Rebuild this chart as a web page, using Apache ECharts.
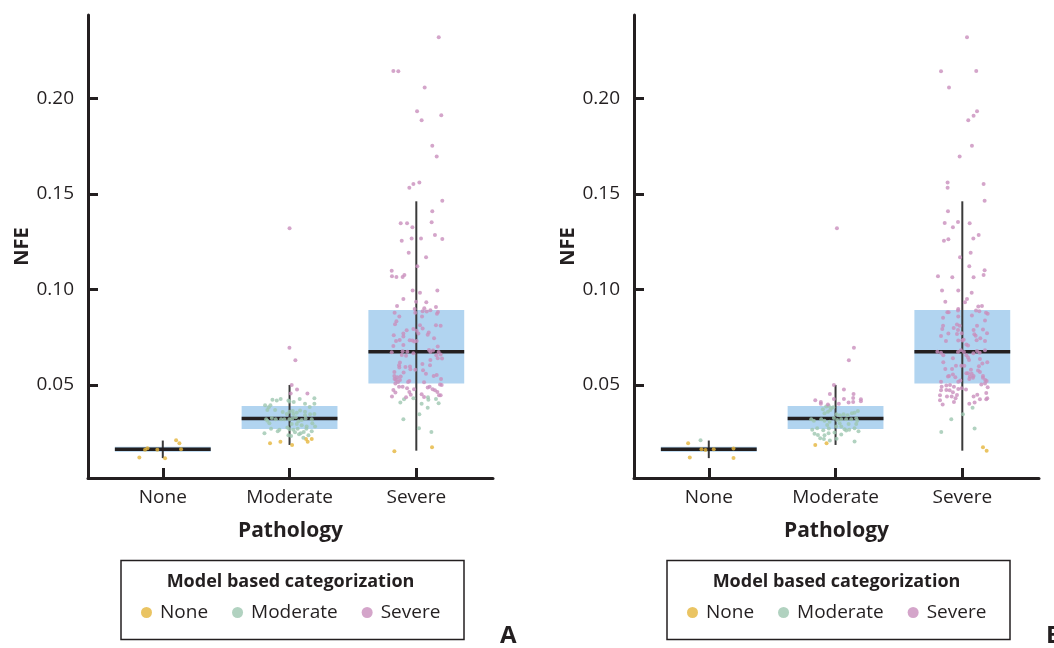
<!DOCTYPE html>
<html>
<head>
<meta charset="utf-8">
<script src="https://cdn.jsdelivr.net/npm/echarts@6/dist/echarts.min.js"></script>
<style>
  html, body { margin: 0; padding: 0; background: #fff; }
  #chart { width: 1054px; height: 648px; }
</style>
</head>
<body>
<div id="chart"></div>
<script>
// 病理分类 (x 轴)
var pathology = ['None', 'Moderate', 'Severe']
var modelCats = ['None', 'Moderate', 'Severe']
var yTicks = [0.05, 0.10, 0.15, 0.20]

// 箱线图统计量, 两个面板相同
var boxLow = [0.0117, 0.0186, 0.0156]
var boxQ1 = [0.0151, 0.0270, 0.0507]
var boxMedian = [0.0164, 0.0324, 0.0674]
var boxQ3 = [0.0176, 0.0390, 0.0892]
var boxHigh = [0.0209, 0.0500, 0.1461]

// 散点: [病理分类序号, 抖动, NFE]
// 面板 A
var aYellow = [
  [0, 0.105, 0.0211], [0, 0.131, 0.0195], [0, -0.140, 0.0161], [0, -0.121, 0.0169],
  [0, -0.043, 0.0161], [0, 0.144, 0.0164], [0, -0.185, 0.0120], [0, 0.018, 0.0116],
  [1, -0.154, 0.0195], [1, -0.072, 0.0203], [1, 0.020, 0.0186], [1, 0.130, 0.0217],
  [1, 0.143, 0.0203], [1, 0.175, 0.0217],
  [2, -0.173, 0.0153], [2, 0.124, 0.0174]
]
var aGreen = [
  [1, -0.135, 0.0423], [1, -0.101, 0.0418], [1, -0.070, 0.0427], [1, -0.009, 0.0418],
  [1, -0.001, 0.0413], [1, 0.033, 0.0411], [1, 0.080, 0.0427], [1, 0.122, 0.0401],
  [1, 0.196, 0.0430], [1, 0.196, 0.0401], [1, 0.159, 0.0385], [1, -0.193, 0.0394],
  [1, -0.164, 0.0383], [1, -0.151, 0.0394], [1, -0.175, 0.0369], [1, -0.114, 0.0369],
  [1, -0.054, 0.0359], [1, -0.022, 0.0348], [1, -0.001, 0.0360], [1, 0.025, 0.0364],
  [1, 0.030, 0.0348], [1, 0.057, 0.0355], [1, 0.083, 0.0366], [1, 0.122, 0.0360],
  [1, 0.122, 0.0341], [1, 0.162, 0.0347], [1, 0.196, 0.0348], [1, -0.185, 0.0320],
  [1, -0.175, 0.0313], [1, -0.159, 0.0299], [1, -0.140, 0.0327], [1, -0.109, 0.0320],
  [1, -0.067, 0.0320], [1, -0.041, 0.0320], [1, -0.001, 0.0320], [1, 0.022, 0.0324],
  [1, 0.049, 0.0331], [1, 0.070, 0.0310], [1, 0.096, 0.0317], [1, 0.127, 0.0324],
  [1, 0.175, 0.0320], [1, 0.180, 0.0299], [1, 0.201, 0.0282], [1, 0.135, 0.0282],
  [1, 0.096, 0.0289], [1, 0.057, 0.0296], [1, 0.017, 0.0296], [1, -0.146, 0.0271],
  [1, -0.093, 0.0258], [1, -0.080, 0.0265], [1, -0.017, 0.0277], [1, -0.001, 0.0268],
  [1, 0.030, 0.0265], [1, 0.043, 0.0252], [1, 0.064, 0.0271], [1, 0.088, 0.0247],
  [1, 0.112, 0.0254], [1, 0.133, 0.0271], [1, 0.149, 0.0237], [1, 0.175, 0.0258],
  [1, -0.198, 0.0247], [1, -0.009, 0.0237], [1, 0.012, 0.0233], [1, 0.075, 0.0242],
  [1, 0.109, 0.0223],
  [2, -0.097, 0.0425], [2, -0.023, 0.0430], [2, 0.092, 0.0435], [2, 0.095, 0.0422],
  [2, 0.155, 0.0427], [2, -0.126, 0.0408], [2, 0.042, 0.0401], [2, 0.090, 0.0380],
  [2, 0.176, 0.0404], [2, 0.024, 0.0347], [2, -0.102, 0.0320], [2, 0.021, 0.0273],
  [2, 0.119, 0.0254]
]
var aPink = [
  [1, 0.000, 0.1320], [1, -0.001, 0.0694], [1, 0.046, 0.0629], [1, 0.017, 0.0500],
  [1, 0.059, 0.0476], [1, 0.009, 0.0455], [1, 0.141, 0.0455],
  [2, 0.177, 0.2319], [2, -0.181, 0.2143], [2, -0.142, 0.2141], [2, 0.066, 0.2057],
  [2, 0.006, 0.1932], [2, 0.197, 0.1911], [2, 0.042, 0.1885], [2, 0.126, 0.1752],
  [2, 0.161, 0.1696], [2, 0.024, 0.1560], [2, -0.023, 0.1552], [2, -0.055, 0.1532],
  [2, 0.205, 0.1464], [2, 0.126, 0.1409], [2, 0.121, 0.1351], [2, -0.123, 0.1346],
  [2, -0.073, 0.1346], [2, -0.031, 0.1325], [2, 0.147, 0.1285], [2, -0.115, 0.1255],
  [2, -0.037, 0.1266], [2, 0.037, 0.1266], [2, 0.205, 0.1264], [2, -0.060, 0.1192],
  [2, 0.077, 0.1168], [2, 0.008, 0.1121], [2, -0.194, 0.1098], [2, -0.192, 0.1069],
  [2, -0.157, 0.1065], [2, -0.108, 0.1065], [2, -0.094, 0.1076],
  [2, -0.029, 0.0994], [2, 0.029, 0.0983], [2, 0.166, 0.0994], [2, -0.102, 0.0950],
  [2, -0.002, 0.0936], [2, 0.079, 0.0933], [2, -0.152, 0.0913], [2, 0.063, 0.0901],
  [2, 0.155, 0.0908], [2, -0.013, 0.0898],
  [2, -0.171, 0.0878], [2, -0.008, 0.0878], [2, 0.050, 0.0885], [2, 0.082, 0.0884],
  [2, 0.111, 0.0891], [2, 0.171, 0.0882], [2, 0.163, 0.0873], [2, -0.134, 0.0858],
  [2, 0.045, 0.0858], [2, -0.157, 0.0833], [2, -0.168, 0.0817], [2, 0.029, 0.0812],
  [2, 0.155, 0.0812], [2, 0.192, 0.0810], [2, 0.050, 0.0796], [2, -0.076, 0.0786],
  [2, -0.023, 0.0793], [2, 0.003, 0.0784], [2, 0.016, 0.0769], [2, -0.102, 0.0769],
  [2, 0.098, 0.0774], [2, 0.090, 0.0763], [2, -0.178, 0.0760], [2, -0.102, 0.0753],
  [2, -0.131, 0.0735], [2, -0.160, 0.0730], [2, -0.052, 0.0734], [2, -0.031, 0.0732],
  [2, -0.016, 0.0727], [2, 0.003, 0.0730], [2, 0.140, 0.0744], [2, -0.181, 0.0704],
  [2, -0.102, 0.0709], [2, 0.169, 0.0701],
  [2, -0.194, 0.0671], [2, -0.108, 0.0676], [2, -0.071, 0.0674], [2, -0.023, 0.0666],
  [2, 0.100, 0.0683], [2, 0.111, 0.0673], [2, 0.132, 0.0680], [2, 0.176, 0.0673],
  [2, 0.192, 0.0659], [2, 0.158, 0.0655],
  [2, -0.081, 0.0653], [2, -0.115, 0.0657], [2, 0.203, 0.0638], [2, 0.169, 0.0640],
  [2, 0.111, 0.0631], [2, 0.048, 0.0610], [2, -0.129, 0.0617], [2, -0.136, 0.0603],
  [2, -0.134, 0.0591], [2, -0.086, 0.0594], [2, -0.050, 0.0596], [2, -0.008, 0.0580],
  [2, -0.047, 0.0582], [2, 0.053, 0.0577], [2, 0.108, 0.0603], [2, -0.173, 0.0568],
  [2, -0.100, 0.0565], [2, 0.076, 0.0558], [2, -0.173, 0.0547], [2, -0.150, 0.0540],
  [2, -0.171, 0.0531], [2, -0.123, 0.0544], [2, -0.160, 0.0526], [2, -0.129, 0.0526],
  [2, -0.144, 0.0516], [2, -0.065, 0.0516], [2, -0.055, 0.0521], [2, 0.061, 0.0514],
  [2, 0.137, 0.0547], [2, 0.161, 0.0552], [2, 0.195, 0.0531],
  [2, -0.165, 0.0507], [2, -0.136, 0.0490], [2, -0.108, 0.0490], [2, -0.073, 0.0483],
  [2, -0.018, 0.0477], [2, 0.090, 0.0486], [2, 0.105, 0.0490], [2, 0.129, 0.0477],
  [2, 0.147, 0.0472], [2, 0.166, 0.0463], [2, 0.187, 0.0502], [2, 0.200, 0.0500],
  [2, -0.181, 0.0474], [2, -0.165, 0.0460], [2, -0.055, 0.0463], [2, -0.044, 0.0449],
  [2, -0.192, 0.0439], [2, -0.081, 0.0435], [2, 0.042, 0.0451], [2, 0.061, 0.0437],
  [2, 0.179, 0.0446], [2, 0.192, 0.0446]
]

// 面板 B
var bYellow = [
  [0, -0.163, 0.0195], [0, -0.058, 0.0164], [0, -0.026, 0.0160], [0, 0.039, 0.0164],
  [0, 0.195, 0.0167], [0, -0.150, 0.0120], [0, 0.195, 0.0118],
  [1, -0.160, 0.0186], [1, -0.071, 0.0195],
  [2, 0.163, 0.0174], [2, 0.192, 0.0155]
]
var bGreen = [
  [0, -0.065, 0.0211],
  [1, -0.100, 0.0373], [1, -0.074, 0.0387], [1, -0.053, 0.0390], [1, -0.034, 0.0378],
  [1, -0.018, 0.0383], [1, -0.060, 0.0360], [1, -0.042, 0.0369], [1, -0.087, 0.0352],
  [1, 0.008, 0.0347], [1, 0.034, 0.0341], [1, 0.063, 0.0347], [1, 0.095, 0.0341],
  [1, 0.129, 0.0352], [1, 0.150, 0.0355], [1, 0.176, 0.0364], [1, -0.192, 0.0320],
  [1, -0.171, 0.0312], [1, -0.113, 0.0320], [1, -0.087, 0.0312], [1, -0.047, 0.0308],
  [1, -0.013, 0.0327], [1, 0.013, 0.0317], [1, 0.045, 0.0320], [1, 0.084, 0.0320],
  [1, 0.124, 0.0320], [1, 0.163, 0.0326], [1, 0.171, 0.0313], [1, 0.163, 0.0296],
  [1, 0.103, 0.0296], [1, -0.066, 0.0291], [1, 0.005, 0.0282], [1, 0.045, 0.0282],
  [1, 0.032, 0.0299], [1, -0.184, 0.0265], [1, -0.145, 0.0273], [1, -0.097, 0.0263],
  [1, -0.053, 0.0272], [1, 0.071, 0.0268], [1, 0.108, 0.0265], [1, 0.150, 0.0273],
  [1, 0.181, 0.0258], [1, -0.166, 0.0244], [1, -0.139, 0.0238], [1, -0.087, 0.0237],
  [1, -0.055, 0.0247], [1, -0.008, 0.0251], [1, 0.045, 0.0240], [1, 0.084, 0.0261],
  [1, -0.121, 0.0221], [1, -0.092, 0.0217], [1, -0.045, 0.0209], [1, 0.008, 0.0219],
  [1, 0.150, 0.0204],
  [2, 0.081, 0.0380], [2, 0.005, 0.0347], [2, -0.087, 0.0320], [2, 0.097, 0.0272],
  [2, -0.166, 0.0254]
]
var bPink = [
  [1, 0.011, 0.1320], [1, 0.145, 0.0694], [1, 0.105, 0.0629], [1, -0.013, 0.0500],
  [1, 0.066, 0.0476], [1, -0.045, 0.0453], [1, 0.142, 0.0453], [1, -0.160, 0.0420],
  [1, -0.116, 0.0411], [1, -0.116, 0.0401], [1, -0.060, 0.0397], [1, -0.013, 0.0427],
  [1, 0.026, 0.0402], [1, 0.066, 0.0427], [1, 0.103, 0.0408], [1, 0.139, 0.0411],
  [1, 0.139, 0.0432], [1, 0.200, 0.0425], [1, 0.200, 0.0415],
  [2, 0.037, 0.2319], [2, -0.168, 0.2141], [2, 0.110, 0.2143], [2, -0.105, 0.2057],
  [2, 0.116, 0.1932], [2, 0.089, 0.1909], [2, 0.047, 0.1885], [2, 0.076, 0.1752],
  [2, -0.021, 0.1696], [2, -0.116, 0.1560], [2, -0.116, 0.1532], [2, 0.168, 0.1552],
  [2, 0.176, 0.1464], [2, -0.113, 0.1409], [2, -0.139, 0.1348], [2, -0.034, 0.1353],
  [2, 0.058, 0.1346], [2, -0.074, 0.1325], [2, 0.129, 0.1285], [2, 0.087, 0.1266],
  [2, -0.145, 0.1255], [2, -0.110, 0.1262], [2, 0.066, 0.1192], [2, -0.018, 0.1168],
  [2, 0.055, 0.1121], [2, 0.176, 0.1100], [2, 0.168, 0.1076], [2, -0.192, 0.1069],
  [2, -0.079, 0.1063], [2, 0.089, 0.1063],
  [2, -0.160, 0.0994], [2, -0.032, 0.0994], [2, 0.074, 0.0983], [2, 0.037, 0.0950],
  [2, -0.134, 0.0936], [2, 0.021, 0.0933], [2, -0.032, 0.0898], [2, 0.126, 0.0910],
  [2, 0.155, 0.0913],
  [2, -0.034, 0.0889], [2, -0.118, 0.0880], [2, -0.108, 0.0880], [2, 0.108, 0.0889],
  [2, 0.134, 0.0885], [2, 0.187, 0.0878], [2, 0.200, 0.0873], [2, -0.032, 0.0858],
  [2, 0.076, 0.0863], [2, -0.152, 0.0852], [2, 0.179, 0.0837], [2, -0.152, 0.0810],
  [2, -0.042, 0.0816], [2, -0.021, 0.0810], [2, 0.116, 0.0810], [2, -0.158, 0.0793],
  [2, -0.068, 0.0798], [2, -0.034, 0.0788], [2, 0.163, 0.0790], [2, 0.089, 0.0788],
  [2, -0.110, 0.0769], [2, -0.005, 0.0770], [2, -0.042, 0.0767], [2, 0.195, 0.0770],
  [2, 0.095, 0.0765], [2, 0.105, 0.0758], [2, -0.168, 0.0756], [2, 0.142, 0.0744],
  [2, -0.129, 0.0730], [2, -0.032, 0.0732], [2, 0.000, 0.0732], [2, 0.011, 0.0737],
  [2, 0.113, 0.0734], [2, 0.179, 0.0730], [2, 0.032, 0.0711], [2, 0.045, 0.0706],
  [2, -0.197, 0.0674], [2, -0.168, 0.0669], [2, -0.150, 0.0655], [2, -0.034, 0.0673],
  [2, -0.011, 0.0681], [2, 0.013, 0.0673], [2, 0.032, 0.0655], [2, 0.087, 0.0666],
  [2, 0.116, 0.0678], [2, 0.137, 0.0669], [2, 0.179, 0.0681], [2, -0.074, 0.0640],
  [2, 0.045, 0.0643], [2, 0.053, 0.0631], [2, 0.139, 0.0636],
  [2, -0.150, 0.0619], [2, 0.197, 0.0619], [2, 0.158, 0.0612], [2, 0.131, 0.0598],
  [2, -0.050, 0.0601], [2, -0.008, 0.0601], [2, 0.016, 0.0601], [2, -0.134, 0.0584],
  [2, -0.081, 0.0584], [2, 0.068, 0.0580], [2, 0.124, 0.0575], [2, 0.139, 0.0568],
  [2, 0.032, 0.0561], [2, 0.045, 0.0561], [2, -0.105, 0.0547], [2, -0.113, 0.0544],
  [2, -0.074, 0.0554], [2, -0.055, 0.0540], [2, 0.060, 0.0544], [2, 0.084, 0.0537],
  [2, 0.089, 0.0547], [2, 0.074, 0.0558], [2, 0.163, 0.0547], [2, 0.163, 0.0537],
  [2, 0.181, 0.0526], [2, 0.192, 0.0521], [2, 0.055, 0.0531], [2, -0.032, 0.0517],
  [2, -0.016, 0.0523], [2, -0.168, 0.0517],
  [2, -0.163, 0.0490], [2, -0.126, 0.0497], [2, -0.097, 0.0500], [2, -0.066, 0.0490],
  [2, -0.032, 0.0479], [2, -0.005, 0.0483], [2, -0.126, 0.0474], [2, -0.100, 0.0472],
  [2, -0.168, 0.0472], [2, 0.029, 0.0476], [2, 0.150, 0.0502], [2, 0.179, 0.0507],
  [2, 0.200, 0.0488], [2, -0.176, 0.0446], [2, -0.074, 0.0462], [2, -0.084, 0.0439],
  [2, -0.042, 0.0448], [2, -0.053, 0.0430], [2, -0.121, 0.0439], [2, 0.089, 0.0439],
  [2, 0.118, 0.0449], [2, 0.189, 0.0458], [2, 0.189, 0.0425], [2, 0.197, 0.0430],
  [2, 0.139, 0.0425], [2, -0.176, 0.0420], [2, -0.155, 0.0397], [2, -0.066, 0.0411],
  [2, 0.097, 0.0408], [2, 0.055, 0.0402]
]

var colors = { None: '#e5b53c', Moderate: '#9ec7b0', Severe: '#c98fbd' }
var ink = '#231f20'
var font = 'Open Sans'
var BOX_HALF = 0.378

var myChart = echarts.init(document.getElementById('chart'), null, { renderer: 'canvas' })

function toXY(list) {
  return list.map(function (p) { return [p[0] + p[1], p[2]] })
}

var boxData = pathology.map(function (name, i) {
  return [i, boxLow[i], boxQ1[i], boxMedian[i], boxQ3[i], boxHigh[i]]
})

function renderBox(params, api) {
  var i = api.value(0)
  var lo = api.coord([i, api.value(1)])
  var hi = api.coord([i, api.value(5)])
  var left = api.coord([i - BOX_HALF, api.value(2)])
  var right = api.coord([i + BOX_HALF, api.value(4)])
  var md = api.coord([i, api.value(3)])
  return {
    type: 'group',
    children: [
      { type: 'rect', shape: { x: left[0], y: right[1], width: right[0] - left[0], height: left[1] - right[1] },
        style: { fill: '#b1d4f0' } },
      { type: 'line', shape: { x1: lo[0], y1: lo[1], x2: hi[0], y2: hi[1] },
        style: { stroke: '#3a3a3a', lineWidth: 2 } },
      { type: 'line', shape: { x1: left[0], y1: md[1], x2: right[0], y2: md[1] },
        style: { stroke: ink, lineWidth: 3.5 } }
    ]
  }
}

function xAxisFor(gi) {
  return {
    gridIndex: gi, type: 'value', min: -0.59, max: 2.605,
    name: 'Pathology', nameLocation: 'middle', nameGap: 43,
    nameTextStyle: { fontFamily: font, fontWeight: 'bold', fontSize: 21, color: ink },
    axisLine: { onZero: false, lineStyle: { color: ink, width: 3 } },
    axisTick: { inside: true, length: 10, lineStyle: { color: ink, width: 3 }, customValues: [0, 1, 2] },
    axisLabel: { customValues: [0, 1, 2], margin: 10, fontFamily: font, fontSize: 19, color: ink,
      formatter: function (v) { return pathology[Math.round(v)] } },
    splitLine: { show: false }
  }
}

function yAxisFor(gi) {
  return {
    gridIndex: gi, type: 'value', min: 0.0013, max: 0.2436,
    name: 'NFE', nameLocation: 'middle', nameGap: 56, nameRotate: 90,
    nameTextStyle: { fontFamily: font, fontWeight: 'bold', fontSize: 20, color: ink },
    axisLine: { show: true, onZero: false, lineStyle: { color: ink, width: 3 } },
    axisTick: { show: true, inside: true, length: 10, lineStyle: { color: ink, width: 3 }, customValues: yTicks },
    axisLabel: { customValues: yTicks, margin: 14, fontFamily: font, fontSize: 19, color: ink,
      formatter: function (v) { return v.toFixed(2) } },
    splitLine: { show: false }
  }
}

function panelSeries(gi, yellow, green, pink) {
  var pts = { None: yellow, Moderate: green, Severe: pink }
  var list = [{
    type: 'custom', name: 'box', xAxisIndex: gi, yAxisIndex: gi, z: 1,
    renderItem: renderBox, data: boxData, encode: { x: 0, y: [1, 2, 3, 4, 5] }, silent: true
  }]
  modelCats.forEach(function (c) {
    list.push({
      type: 'scatter', name: c, xAxisIndex: gi, yAxisIndex: gi, z: 3,
      symbol: 'circle', symbolSize: 4,
      itemStyle: { color: colors[c] },
      data: toXY(pts[c])
    })
  })
  return list
}

function legendFor(left) {
  return {
    left: left, top: 603, orient: 'horizontal', padding: 0,
    icon: 'circle', itemWidth: 17, itemHeight: 11, itemGap: 24,
    data: modelCats,
    textStyle: { fontFamily: font, fontSize: 19, color: ink }
  }
}

function legendFrame(x0) {
  return [
    { type: 'rect', left: x0, top: 558, shape: { width: 343, height: 79 },
      style: { fill: 'none', stroke: ink, lineWidth: 1.5 } },
    { type: 'text', x: x0 + 172, y: 582,
      style: { text: 'Model based categorization', fontFamily: font, fontWeight: 'bold', fontSize: 18,
        fill: ink, align: 'center', verticalAlign: 'middle' } }
  ]
}

var option = {
  backgroundColor: '#fff',
  animation: false,
  grid: [
    { left: 88, top: 15, width: 405, height: 463 },
    { left: 634, top: 15, width: 405, height: 463 }
  ],
  xAxis: [xAxisFor(0), xAxisFor(1)],
  yAxis: [yAxisFor(0), yAxisFor(1)],
  legend: [legendFor(141), legendFor(687)],
  graphic: legendFrame(118.5).concat(legendFrame(664.5)).concat([
    { type: 'text', x: 500, y: 636,
      style: { text: 'A', fontFamily: font, fontWeight: 'bold', fontSize: 24, fill: ink, verticalAlign: 'middle' } },
    { type: 'text', x: 1046, y: 636,
      style: { text: 'B', fontFamily: font, fontWeight: 'bold', fontSize: 24, fill: ink, verticalAlign: 'middle' } }
  ]),
  series: panelSeries(0, aYellow, aGreen, aPink).concat(panelSeries(1, bYellow, bGreen, bPink))
}

myChart.setOption(option)
</script>
</body>
</html>
